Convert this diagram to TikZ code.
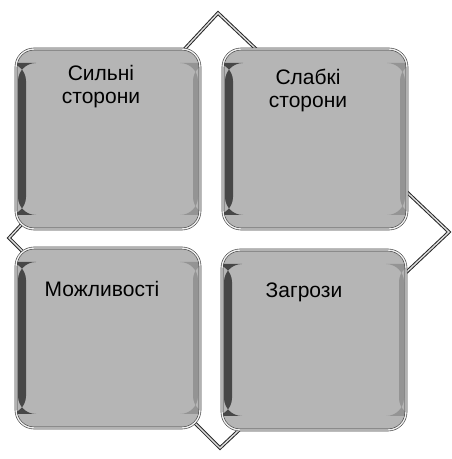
\documentclass[tikz,border=0pt]{standalone}
\usepackage{fontspec}
\setmainfont{Liberation Sans}
\usetikzlibrary{positioning}
\tikzstyle{quad}=[rectangle,rounded corners=18pt,minimum width=184pt,minimum height=180pt,fill=gray!58,draw=gray!50!black,line width=0.6pt,double=gray!12,double distance=1.4pt,
  path picture={\fill[black!72] ([xshift=2pt,yshift=14pt]path picture bounding box.south west) rectangle ([xshift=10pt,yshift=-14pt]path picture bounding box.north west);
                \fill[black!42] ([xshift=-7pt,yshift=14pt]path picture bounding box.south east) rectangle ([xshift=-2pt,yshift=-14pt]path picture bounding box.north east);}]
\tikzstyle{tag}=[align=center,inner sep=0pt,font=\fontsize{21}{23}\selectfont]
\tikzstyle{rim}=[draw=black!85,line width=1pt,double=gray!25,double distance=1.4pt,line join=miter]

\begin{document}
\begin{tikzpicture}[x=1pt,y=1pt]
      \useasboundingbox (0,0) rectangle (451,459);
      % frame behind the four fields
      \coordinate (top) at (218,446);
      \coordinate (rgt) at (449,227);
      \coordinate (bot) at (220,11);
      \coordinate (lft) at (9,221);
      \draw[rim] (top) -- (rgt) -- (bot) -- (lft) -- cycle;
      % the four fields
      \node[quad] (S) at (108,320) {};
      \node[quad] (W) at (315,320) {};
      \node[quad] (O) at (108,121) {};
      \node[quad] (T) at (314,119) {};
      \node[tag,below=16pt of S.north,xshift=-7pt] (s) {Сильні\\сторони};
      \node[tag,below=20pt of W.north,xshift=-7pt] (w) {Слабкі\\сторони};
      \node[tag,below=33pt of O.north,xshift=-6pt] (o) {Можливості};
      \node[tag,below=33pt of T.north,xshift=-10pt] (t) {Загрози};
  \end{tikzpicture}
\end{document}
